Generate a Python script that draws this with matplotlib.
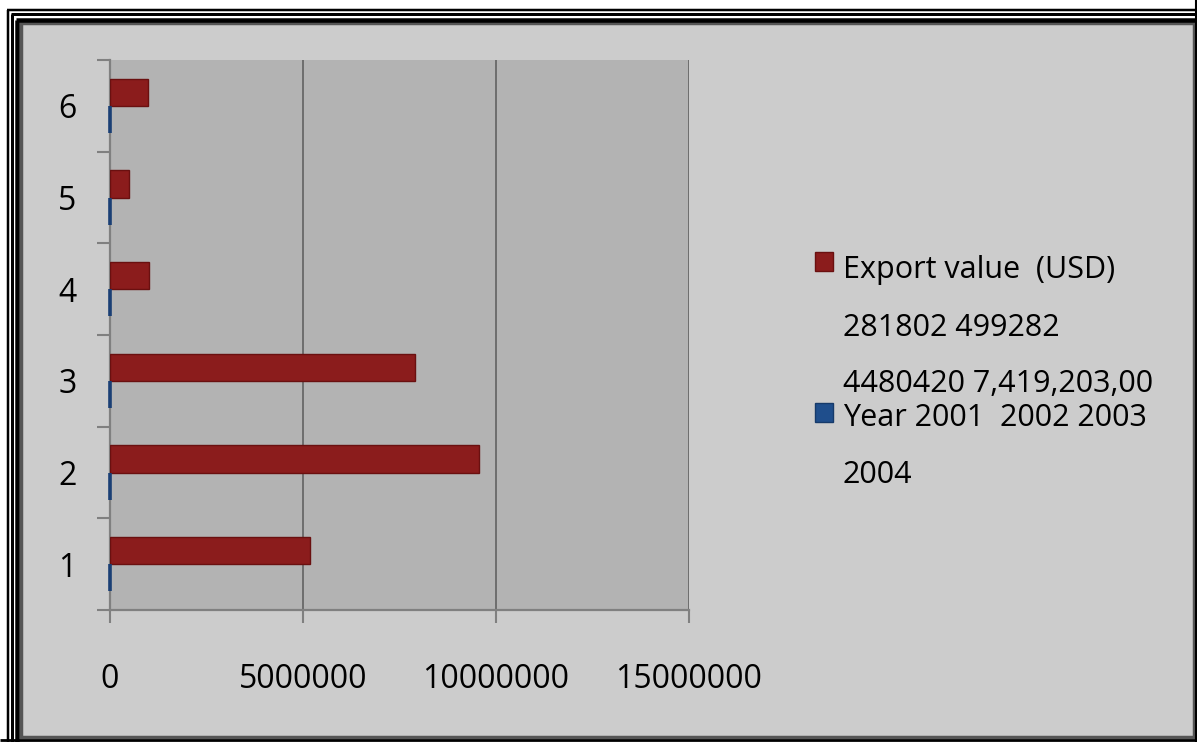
"""
Export value bar chart (horizontal, clustered)
"""

import matplotlib
matplotlib.use('Agg')
import matplotlib.pyplot as plt
from matplotlib.patches import Rectangle

# data
categories = [1, 2, 3, 4, 5, 6]
export_value = [5180000, 9560000, 7900000, 1010000, 490000, 980000]
year_value = [2001, 2002, 2003, 2004, 2005, 2006]
x_ticks = [0, 5000000, 10000000, 15000000]

legend_export = ['Export value  (USD)', '281802 499282', '4480420 7,419,203,00']
legend_year = ['Year 2001  2002 2003', '2004']

W, H = 1197, 742
plt.rcParams['font.family'] = ['Open Sans', 'DejaVu Sans']

fig = plt.figure(figsize=(W / 100, H / 100), dpi=100, facecolor='white')

# background frame drawn in pixel coords
bg = fig.add_axes([0, 0, 1, 1], zorder=-5)
bg.set_xlim(0, W)
bg.set_ylim(H, 0)
bg.axis('off')
# triple black frame lines (top and left, cropped at right/bottom)
for y0, x0, lw in [(10, 7, 2.5), (14, 11, 3), (20, 16, 4.5)]:
    bg.plot([x0, W], [y0, y0], color='black', lw=lw * 0.72, solid_capstyle='butt')
    bg.plot([x0 + 1, x0 + 1], [y0, H], color='black', lw=lw * 0.72, solid_capstyle='butt')
bg.add_patch(Rectangle((21, 23), 1173, 714, facecolor='#cccccc', edgecolor='#555555', lw=2.5))
bg.plot([0, W], [740, 740], color='black', lw=2, solid_capstyle='butt')
bg.plot([1196, 1196], [0, H], color='black', lw=1.5, solid_capstyle='butt')

# plot area
ax = fig.add_axes([110 / W, 1 - 610 / H, 579 / W, 550 / H])
ax.set_facecolor('#b3b3b3')

bh = 0.295
red_pos = [c + bh / 2 for c in categories]
blue_pos = [c - bh / 2 for c in categories]
ax.barh(red_pos, export_value, height=bh, color='#8b1c1c', edgecolor='#6a1010', lw=1, zorder=3)
# year values are tiny on this scale, the edge keeps them visible as thin slivers
ax.barh(blue_pos, year_value, height=bh, color='#1f4e8c', edgecolor='#1a3f75', lw=2.6, zorder=3, clip_on=False)

ax.set_xlim(0, 15000000)
ax.set_ylim(0.5, 6.5)

ax.set_xticks(x_ticks)
ax.set_xticklabels([str(t) for t in x_ticks], fontsize=23)
ax.set_yticks([c + 0.5 for c in [0] + categories])
ax.set_yticklabels([])
ax.set_yticks(categories, minor=True)
ax.set_yticklabels([str(c) for c in categories], minor=True, fontsize=23)

ax.tick_params(axis='x', direction='out', length=9, width=1.5, color='#808080', pad=29)
ax.tick_params(axis='y', which='major', direction='out', length=9.5, width=1.5, color='#808080')
ax.tick_params(axis='y', which='minor', length=0, pad=24)

ax.grid(axis='x', color='#6e6e6e', lw=1.4, zorder=1)
for s in ['top', 'right']:
    ax.spines[s].set_visible(False)
for s in ['left', 'bottom']:
    ax.spines[s].set_color('#808080')
    ax.spines[s].set_linewidth(1.6)

# legend drawn by hand to keep the odd line spacing
bg.add_patch(Rectangle((815, 252), 18, 19, facecolor='#8b1c1c', edgecolor='#6a1010', lw=1))
bg.add_patch(Rectangle((815, 403), 18, 19, facecolor='#1f4e8c', edgecolor='#163a6a', lw=1))
for txt, y in zip(legend_export, [270, 328, 384]):
    bg.text(843, y, txt, fontsize=22, va='center', ha='left')
for txt, y in zip(legend_year, [418, 475]):
    bg.text(843, y, txt, fontsize=22, va='center', ha='left')

plt.savefig('out.png', dpi=100, facecolor=fig.get_facecolor())
